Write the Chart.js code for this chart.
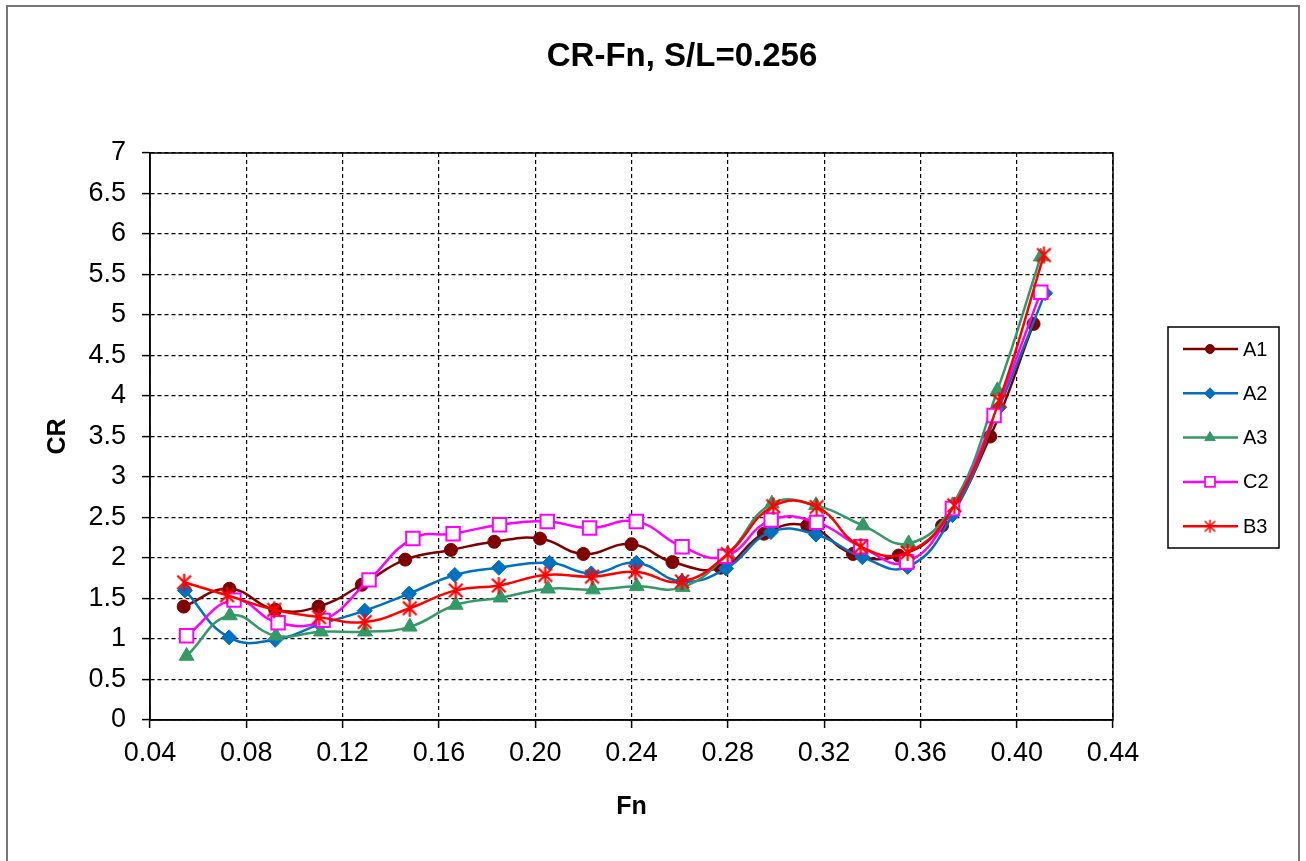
<!DOCTYPE html>
<html>
<head>
<meta charset="utf-8">
<title>CR-Fn, S/L=0.256</title>
<script src="https://cdn.jsdelivr.net/npm/chart.js@4/dist/chart.umd.min.js"></script>
<style>
  html, body { margin: 0; padding: 0; background: #fff; }
  canvas { display: block; }
</style>
</head>
<body>
<canvas id="crChart" width="1306" height="861"></canvas>
<script>
// values
const a1Fn = [0.054, 0.073, 0.092, 0.110, 0.128, 0.146, 0.165, 0.183, 0.202, 0.220, 0.240, 0.257, 0.277, 0.295, 0.313, 0.332, 0.351, 0.369, 0.389, 0.407];
const a1Cr = [1.40, 1.62, 1.36, 1.40, 1.67, 1.98, 2.10, 2.20, 2.24, 2.05, 2.17, 1.95, 1.88, 2.30, 2.40, 2.05, 2.03, 2.40, 3.50, 4.89];

const a2Fn = [0.0545, 0.0729, 0.0920, 0.1105, 0.1292, 0.1476, 0.1666, 0.1849, 0.2060, 0.2233, 0.2420, 0.2610, 0.2793, 0.2979, 0.3166, 0.3359, 0.3547, 0.3733, 0.3927, 0.4118];
const a2Cr = [1.60, 1.02, 0.99, 1.18, 1.35, 1.56, 1.79, 1.88, 1.94, 1.81, 1.94, 1.71, 1.87, 2.32, 2.29, 2.01, 1.89, 2.53, 3.86, 5.27];

const a3Fn = [0.0552, 0.0732, 0.0923, 0.1110, 0.1293, 0.1479, 0.1670, 0.1856, 0.2053, 0.2240, 0.2422, 0.2613, 0.2800, 0.2983, 0.3166, 0.3362, 0.3551, 0.3733, 0.3920, 0.4100];
const a3Cr = [0.79, 1.29, 1.04, 1.09, 1.09, 1.15, 1.42, 1.51, 1.62, 1.61, 1.65, 1.64, 2.05, 2.67, 2.65, 2.40, 2.18, 2.65, 4.07, 5.72];

const c2Fn = [0.0552, 0.0749, 0.0932, 0.1119, 0.1310, 0.1492, 0.1659, 0.1852, 0.2050, 0.2226, 0.2420, 0.2610, 0.2788, 0.2980, 0.3169, 0.3352, 0.3543, 0.3733, 0.3906, 0.4100];
const c2Cr = [1.04, 1.48, 1.20, 1.23, 1.73, 2.24, 2.30, 2.41, 2.45, 2.37, 2.45, 2.14, 2.02, 2.47, 2.44, 2.14, 1.95, 2.61, 3.76, 5.28];

const b3Fn = [0.0542, 0.0720, 0.0916, 0.1102, 0.1292, 0.1479, 0.1670, 0.1849, 0.2042, 0.2236, 0.2416, 0.2610, 0.2800, 0.2989, 0.3169, 0.3352, 0.3547, 0.3741, 0.3927, 0.4113];
const b3Cr = [1.70, 1.54, 1.36, 1.27, 1.21, 1.38, 1.60, 1.66, 1.79, 1.77, 1.83, 1.71, 2.05, 2.64, 2.63, 2.14, 2.07, 2.65, 3.94, 5.74];

const seriesNames = ['A1', 'A2', 'A3', 'C2', 'B3'];

Chart.defaults.font.family = '"Liberation Sans", Arial, sans-serif';
Chart.defaults.color = '#000';

function toPoints(xs, ys) {
  return xs.map((x, i) => ({ x: x, y: ys[i] }));
}

// excel style star: vertical bar plus an X
function starMarker(size, width) {
  const c = document.createElement('canvas');
  c.width = size;
  c.height = size;
  const g = c.getContext('2d');
  const h = size / 2, r = size / 2 - 1;
  g.strokeStyle = '#ff0000';
  g.lineWidth = width;
  g.beginPath();
  g.moveTo(h, h - r); g.lineTo(h, h + r);
  const d = r * 0.8;
  g.moveTo(h - d, h - d); g.lineTo(h + d, h + d);
  g.moveTo(h + d, h - d); g.lineTo(h - d, h + d);
  g.stroke();
  return c;
}

const starBig = starMarker(19, 2.2);
const starSmall = starMarker(15, 1.6);

const legendMarks = [
  { pointStyle: 'circle', radius: 4.5, fill: '#800000' },
  { pointStyle: 'rectRot', radius: 5.5, fill: '#0070c0' },
  { pointStyle: 'triangle', radius: 6, fill: '#339966' },
  { pointStyle: 'rect', radius: 7, fill: '#ffffff' },
  { pointStyle: starSmall, radius: 7, fill: '#ff0000' }
];

const frameAndLegend = {
  id: 'frameAndLegend',
  beforeDraw(chart) {
    const ctx = chart.ctx;
    ctx.save();
    ctx.fillStyle = '#fff';
    ctx.fillRect(0, 0, chart.width, chart.height);
    ctx.strokeStyle = '#777';
    ctx.lineWidth = 2;
    ctx.strokeRect(7, 6, 1292, 900);
    ctx.restore();
  },
  afterDatasetsDraw(chart) {
    const ctx = chart.ctx;
    const a = chart.chartArea;
    ctx.save();
    ctx.strokeStyle = '#000';
    ctx.lineWidth = 1.5;
    ctx.strokeRect(a.left, a.top, a.right - a.left, a.bottom - a.top);

    // title
    ctx.fillStyle = '#000';
    ctx.font = 'bold 33px "Liberation Sans", Arial, sans-serif';
    ctx.textAlign = 'center';
    ctx.textBaseline = 'middle';
    ctx.fillText('CR-Fn, S/L=0.256', 682, 57);

    // legend
    ctx.lineWidth = 1.5;
    ctx.strokeStyle = '#000';
    ctx.strokeRect(1168, 327, 111, 221);
    ctx.font = '20px "Liberation Sans", Arial, sans-serif';
    ctx.textAlign = 'left';
    chart.data.datasets.forEach((ds, i) => {
      const y = 349 + i * 44.3;
      ctx.strokeStyle = ds.borderColor;
      ctx.lineWidth = 2.5;
      ctx.beginPath();
      ctx.moveTo(1183, y);
      ctx.lineTo(1238, y);
      ctx.stroke();
      const m = legendMarks[i];
      ctx.fillStyle = m.fill;
      ctx.strokeStyle = ds.borderColor;
      ctx.lineWidth = i === 3 ? 1.8 : 1;
      Chart.helpers.drawPoint(ctx, { pointStyle: m.pointStyle, radius: m.radius, rotation: 0, borderWidth: ctx.lineWidth }, 1210, y);
      ctx.fillStyle = '#000';
      ctx.fillText(seriesNames[i], 1243, y + 1);
    });
    ctx.restore();
  }
};

function series(name, xs, ys, color, style, radius, bg, bw, order) {
  return {
    label: name,
    data: toPoints(xs, ys),
    borderColor: color,
    backgroundColor: bg,
    borderWidth: 2.5,
    pointStyle: style,
    pointRadius: radius,
    pointBackgroundColor: bg,
    pointBorderColor: color,
    pointBorderWidth: bw,
    tension: 0.45,
    fill: false,
    order: order
  };
}

const ctx = document.getElementById('crChart').getContext('2d');
const crChart = new Chart(ctx, {
  type: 'line',
  data: {
    datasets: [
      series('A1', a1Fn, a1Cr, '#800000', 'circle', 6.5, '#800000', 1, 5),
      series('A2', a2Fn, a2Cr, '#0070c0', 'rectRot', 7.5, '#0070c0', 1, 4),
      series('A3', a3Fn, a3Cr, '#339966', 'triangle', 8.5, '#339966', 1, 3),
      series('C2', c2Fn, c2Cr, '#ff00ff', 'rect', 9.5, '#ffffff', 2, 2),
      series('B3', b3Fn, b3Cr, '#ff0000', starBig, 9.5, '#ff0000', 1, 1)
    ]
  },
  options: {
    responsive: false,
    animation: false,
    layout: { padding: { top: 153, right: 193, bottom: 0, left: 0 } },
    plugins: {
      legend: { display: false },
      title: { display: false },
      tooltip: { enabled: false }
    },
    scales: {
      x: {
        type: 'linear',
        min: 0.04,
        max: 0.44,
        afterFit: (scale) => { scale.height = 141; },
        ticks: {
          stepSize: 0.04,
          padding: 9,
          font: { size: 27 },
          callback: (v) => v.toFixed(2)
        },
        grid: { color: '#000', lineWidth: 1.2, tickLength: 8, tickColor: '#000', tickWidth: 1.5, borderDash: [4, 3] },
        border: { display: true, color: '#000', width: 1.5, dash: [4, 3] },
        title: { display: true, text: 'Fn', font: { size: 25, weight: 'bold' }, padding: { top: 0, bottom: 39 } }
      },
      y: {
        min: 0,
        max: 7,
        afterFit: (scale) => { scale.width = 150; },
        ticks: {
          stepSize: 0.5,
          padding: 16,
          font: { size: 27 },
          callback: (v) => String(Math.round(v * 10) / 10)
        },
        grid: { color: '#000', lineWidth: 1.2, tickLength: 8, tickColor: '#000', tickWidth: 1.5, borderDash: [4, 3] },
        border: { display: true, color: '#000', width: 1.5, dash: [4, 3] },
        title: { display: true, text: 'CR', font: { size: 25, weight: 'bold' }, padding: { top: 43, bottom: 0 } }
      }
    }
  },
  plugins: [frameAndLegend]
});
</script>
</body>
</html>
